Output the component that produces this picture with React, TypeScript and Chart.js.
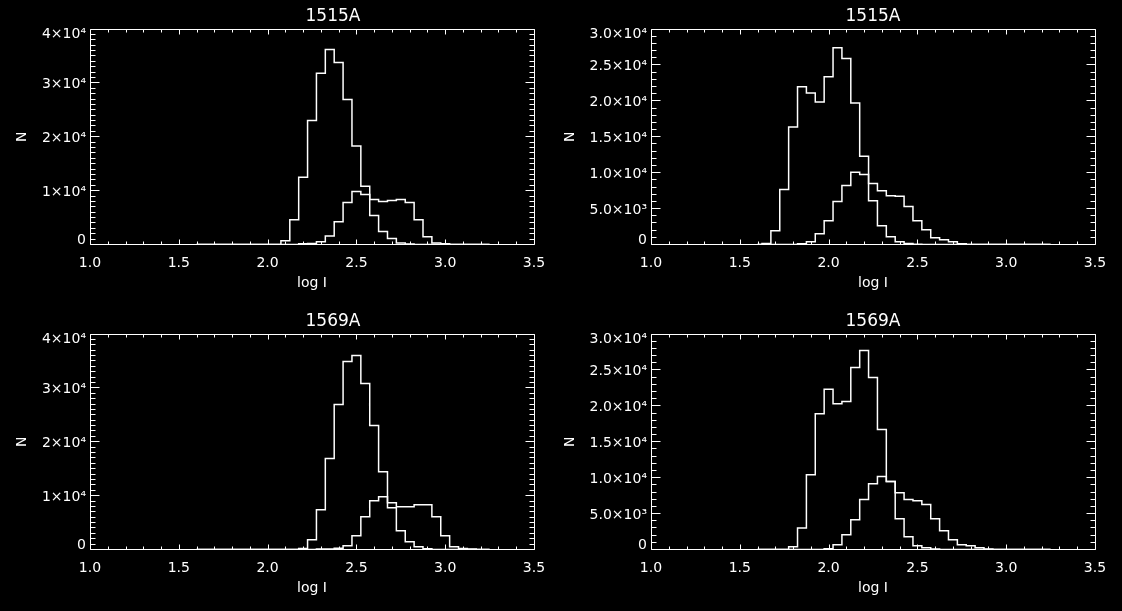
import React, { useEffect, useRef } from 'react';
import { Chart, registerables } from 'chart.js';

Chart.register(...registerables);

// ---------------- data ----------------
const binCenters = [
  1.60, 1.65, 1.70, 1.75, 1.80, 1.85, 1.90, 1.95, 2.00, 2.05,
  2.10, 2.15, 2.20, 2.25, 2.30, 2.35, 2.40, 2.45, 2.50, 2.55,
  2.60, 2.65, 2.70, 2.75, 2.80, 2.85, 2.90, 2.95, 3.00, 3.05,
  3.10, 3.15, 3.20, 3.25,
];

// 1515A, left panel
const p1Tall = [
  0, 0, 0, 0, 0, 0, 0, 0, 0, 0,
  690, 4600, 12500, 23000, 31800, 36200, 33800, 26900, 18300, 10800,
  5400, 2400, 1100, 300, 100, 0, 0, 0, 0, 0,
  0, 0, 0, 0,
];
const p1Low = [
  0, 0, 0, 0, 0, 0, 0, 0, 0, 0,
  0, 0, 150, 200, 500, 1600, 4200, 7800, 9850, 9300,
  8350, 8000, 8150, 8350, 7800, 4600, 1450, 300, 120, 0,
  0, 0, 0, 0,
];
// 1515A, right panel
const p2Tall = [
  0, 140, 1900, 7650, 16350, 21950, 21100, 19850, 23350, 27400,
  25900, 19700, 12300, 6100, 2600, 1080, 370, 140, 50, 0,
  0, 0, 0, 0, 0, 0, 0, 0, 0, 0,
  0, 0, 0, 0,
];
const p2Low = [
  0, 0, 0, 0, 0, 100, 370, 1500, 3300, 6000,
  8200, 10050, 9750, 8500, 7500, 6800, 6700, 5300, 3300, 2050,
  950, 650, 370, 100, 0, 0, 0, 0, 0, 0,
  0, 0, 0, 0,
];
// 1569A, left panel
const p3Tall = [
  0, 0, 0, 0, 0, 0, 0, 0, 0, 0,
  0, 0, 200, 1800, 7400, 16900, 26900, 34900, 36000, 30800,
  23000, 14450, 7750, 3470, 1430, 500, 150, 0, 0, 0,
  0, 0, 0, 0,
];
const p3Low = [
  0, 0, 0, 0, 0, 0, 0, 0, 0, 0,
  0, 0, 0, 0, 80, 100, 250, 680, 2550, 6080,
  9050, 9800, 8700, 7950, 7950, 8300, 8300, 6080, 2550, 500,
  200, 80, 0, 0,
];
// 1569A, right panel
const p4Tall = [
  0, 0, 0, 0, 370, 3000, 10400, 18900, 22300, 20300,
  20600, 25350, 27700, 23950, 16700, 9450, 4280, 1770, 510, 230,
  80, 0, 0, 0, 0, 0, 0, 0, 0, 0,
  0, 0, 0, 0,
];
const p4Low = [
  0, 0, 0, 0, 0, 0, 0, 0, 100, 650,
  2050, 4150, 6950, 9150, 10150, 9450, 7900, 6950, 6800, 6250,
  4280, 2600, 1350, 650, 510, 230, 80, 0, 0, 0,
  0, 0, 0, 0,
];

const panelTitles = ['1515A', '1515A', '1569A', '1569A'];
const xTickLabels = ['1.0', '1.5', '2.0', '2.5', '3.0', '3.5'];
const yLabelsTall = ['0', '1×10⁴', '2×10⁴', '3×10⁴', '4×10⁴'];
const yLabelsShort = ['0', '5.0×10³', '1.0×10⁴', '1.5×10⁴', '2.0×10⁴', '2.5×10⁴', '3.0×10⁴'];
const xAxisTitle = 'log I';
const yAxisTitle = 'N';

// ---------------- layout ----------------
const FONT = '"DejaVu Sans", sans-serif';
const CW = 561;
const AREA_LEFT = 90;
const AREA_RIGHT = 534;
const AREA_TOP = 29;
const AREA_BOTTOM = 244.5;
const X_MIN = 1.0;
const X_MAX = 3.5;

type Spec = {
  title: string;
  left: number;
  top: number;
  height: number;
  titleX: number;
  nPad: number;
  yMax: number;
  yStep: number;
  yMinor: number;
  yLabels: string[];
  tall: number[];
  low: number[];
};

const specs: Spec[] = [
  { title: panelTitles[0], left: 0, top: 0, height: 305, titleX: 333, nPad: 13.6, yMax: 40000, yStep: 10000, yMinor: 1000, yLabels: yLabelsTall, tall: p1Tall, low: p1Low },
  { title: panelTitles[1], left: 561, top: 0, height: 305, titleX: 312, nPad: 0.6, yMax: 30000, yStep: 5000, yMinor: 1000, yLabels: yLabelsShort, tall: p2Tall, low: p2Low },
  { title: panelTitles[2], left: 0, top: 305, height: 306, titleX: 333, nPad: 13.6, yMax: 40000, yStep: 10000, yMinor: 1000, yLabels: yLabelsTall, tall: p3Tall, low: p3Low },
  { title: panelTitles[3], left: 561, top: 305, height: 306, titleX: 312, nPad: 0.6, yMax: 30000, yStep: 5000, yMinor: 1000, yLabels: yLabelsShort, tall: p4Tall, low: p4Low },
];

const idlFramePlugin = {
  id: 'idlFrame',
  afterDraw(chart: any, _args: any, opts: any) {
    const { ctx, chartArea: a } = chart;
    const xs = chart.scales.x;
    const ys = chart.scales.y;
    ctx.save();
    ctx.strokeStyle = '#ffffff';
    ctx.lineWidth = 1;
    const L = Math.floor(a.left) + 0.5;
    const R = Math.floor(a.right) + 0.5;
    const T = Math.floor(a.top) + 0.5;
    const B = Math.floor(a.bottom) + 0.5;
    ctx.beginPath();
    ctx.rect(L, T, R - L, B - T);
    // x ticks (major every 0.5, minor every 0.1), on bottom and top
    const nx = Math.round((X_MAX - X_MIN) / 0.1);
    for (let i = 0; i <= nx; i++) {
      const px = Math.round(xs.getPixelForValue(X_MIN + i * 0.1)) + 0.5;
      const len = i % 5 === 0 ? 5 : 3;
      ctx.moveTo(px, B);
      ctx.lineTo(px, B - len);
      ctx.moveTo(px, T);
      ctx.lineTo(px, T + len);
    }
    // y ticks, on left and right
    const ny = Math.round(opts.yMax / opts.yMinor);
    const per = Math.round(opts.yStep / opts.yMinor);
    for (let i = 0; i <= ny; i++) {
      const py = Math.floor(ys.getPixelForValue(i * opts.yMinor)) + 0.5;
      const len = i % per === 0 ? 9 : 5;
      ctx.moveTo(L, py);
      ctx.lineTo(L + len, py);
      ctx.moveTo(R, py);
      ctx.lineTo(R - len, py);
    }
    ctx.stroke();
    ctx.fillStyle = '#ffffff';
    ctx.font = `17px ${FONT}`;
    ctx.textAlign = 'center';
    ctx.textBaseline = 'alphabetic';
    ctx.fillText(opts.title, opts.titleX, 21);
    ctx.restore();
  },
};

function HistPanel({ spec }: { spec: Spec }) {
  const ref = useRef<HTMLCanvasElement>(null);
  useEffect(() => {
    const canvas = ref.current;
    if (!canvas) return;
    const H = spec.height;
    const nLab = spec.yLabels.length;
    const chart = new Chart(canvas, {
      type: 'line',
      data: {
        datasets: [spec.tall, spec.low].map((vals, k) => ({
          label: k === 0 ? 'A' : 'B',
          data: binCenters.map((c, i) => ({ x: c, y: vals[i] })),
          stepped: 'middle' as const,
          borderColor: '#ffffff',
          borderWidth: 1.5,
          pointRadius: 0,
          fill: false,
        })),
      },
      options: {
        responsive: false,
        animation: false,
        events: [],
        layout: { padding: { top: AREA_TOP, left: 0, right: CW - AREA_RIGHT, bottom: 0 } },
        plugins: {
          legend: { display: false },
          tooltip: { enabled: false },
          title: { display: false },
          idlFrame: {
            title: spec.title,
            titleX: spec.titleX,
            yMax: spec.yMax,
            yStep: spec.yStep,
            yMinor: spec.yMinor,
          },
        } as any,
        scales: {
          x: {
            type: 'linear',
            min: X_MIN,
            max: X_MAX,
            afterFit: (s: any) => { s.height = H - AREA_BOTTOM; },
            grid: { display: false, drawTicks: false },
            border: { display: false },
            ticks: {
              stepSize: 0.5,
              autoSkip: false,
              maxRotation: 0,
              padding: 10.1,
              color: '#ffffff',
              font: { family: FONT, size: 14 },
              callback: (_v: any, i: number) => xTickLabels[i],
            },
            title: {
              display: true,
              text: xAxisTitle,
              color: '#ffffff',
              font: { family: FONT, size: 14 },
              padding: { top: 0, bottom: H - 8.4 - 283 },
            },
          },
          y: {
            type: 'linear',
            min: 0,
            max: spec.yMax,
            afterFit: (s: any) => { s.width = AREA_LEFT; },
            grid: { display: false, drawTicks: false },
            border: { display: false },
            ticks: {
              stepSize: spec.yStep,
              autoSkip: false,
              padding: 4,
              labelOffset: 1.5,
              color: '#ffffff',
              font: (c: any) => ({
                family: FONT,
                size: 14,
                lineHeight: c.index === 0 ? '11px' : c.index === nLab - 1 ? '8.4px' : 1.2,
              }),
              callback: (_v: any, i: number) => {
                const lab = spec.yLabels[i];
                if (i === 0) return [lab, ''];
                if (i === nLab - 1) return ['', lab];
                return lab;
              },
            },
            title: {
              display: true,
              text: yAxisTitle,
              color: '#ffffff',
              font: { family: FONT, size: 14 },
              padding: { top: spec.nPad, bottom: 0 },
            },
          },
        },
      } as any,
      plugins: [idlFramePlugin],
    });
    return () => chart.destroy();
  }, [spec]);
  return (
    <canvas
      ref={ref}
      width={CW}
      height={spec.height}
      style={{ position: 'absolute', left: spec.left, top: spec.top, width: CW, height: spec.height }}
    />
  );
}

export default function App() {
  useEffect(() => {
    document.body.style.margin = '0';
    document.body.style.background = '#000';
  }, []);
  return (
    <div style={{ position: 'fixed', left: 0, top: 0, width: 1122, height: 611, background: '#000', overflow: 'hidden' }}>
      {specs.map((s, i) => (
        <HistPanel key={i} spec={s} />
      ))}
    </div>
  );
}
